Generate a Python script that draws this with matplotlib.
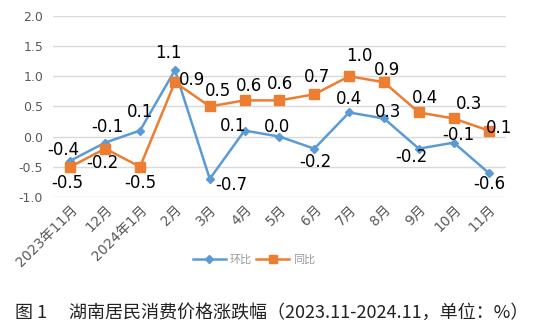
import numpy as np
from matplotlib import pyplot as plt

plt.rcParams['font.family'] = ['DejaVu Sans', 'Noto Sans CJK SC']

months = ['2023年11月', '12月', '2024年1月', '2月', '3月', '4月', '5月',
          '6月', '7月', '8月', '9月', '10月', '11月']
huanbi = [-0.4, -0.1, 0.1, 1.1, -0.7, 0.1, 0.0, -0.2, 0.4, 0.3, -0.2, -0.1, -0.6]
tongbi = [-0.5, -0.2, -0.5, 0.9, 0.5, 0.6, 0.6, 0.7, 1.0, 0.9, 0.4, 0.3, 0.1]

# 数据标签偏移 (像素)
hb_off = [(-7, 11), (2, 16), (0, 19), (-7, 17), (22, -6), (-12, 5), (-2, 10),
          (1, -13), (0, 13), (4, 6), (-7, -8), (5, 8), (1, -11)]
tb_off = [(-3, -16), (-3, -14), (0, -16), (17, 2), (8, 15), (4, 14), (1, 16),
          (3, 17), (10, 20), (3, 12), (6, 14), (15, 14), (11, 3)]

blue = '#5B9BD5'
orange = '#ED7D31'

fig = plt.figure(figsize=(5.4, 3.31), dpi=100)
ax = fig.add_axes([0.098, 0.405, 0.839, 0.547])
x = np.arange(len(months))

ax.plot(x, huanbi, color=blue, lw=1.8, marker='D', ms=4.5, label='环比', zorder=3)
ax.plot(x, tongbi, color=orange, lw=1.8, marker='s', ms=6.5, label='同比', zorder=3)

px = 72 / 100
for i in x:
    dx, dy = hb_off[i]
    ax.annotate(f'{huanbi[i]:.1f}', (i, huanbi[i]), xytext=(dx * px, dy * px),
                textcoords='offset points', ha='center', va='center', fontsize=12,
                color='black', zorder=5)
    dx, dy = tb_off[i]
    ax.annotate(f'{tongbi[i]:.1f}', (i, tongbi[i]), xytext=(dx * px, dy * px),
                textcoords='offset points', ha='center', va='center', fontsize=12,
                color='black', zorder=5)

ax.set_xlim(-0.5, len(months) - 0.5)
ax.set_ylim(-1.0, 2.0)
ax.set_yticks(np.arange(-1.0, 2.01, 0.5))
ax.set_yticklabels([f'{v:.1f}' for v in np.arange(-1.0, 2.01, 0.5)])
ax.set_xticks(x)
ax.set_xticklabels(months, rotation=45, ha='right', rotation_mode='anchor')
ax.tick_params(axis='both', length=0, labelcolor='#595959')
ax.tick_params(axis='y', pad=7, labelsize=9)
ax.tick_params(axis='x', pad=4, labelsize=10)
ax.grid(axis='y', color='#D9D9D9', lw=1)
ax.set_axisbelow(True)
for s in ax.spines.values():
    s.set_visible(False)

leg = fig.legend(loc='center', bbox_to_anchor=(0.47, 0.215), ncol=2, frameon=False,
                 fontsize=8, handlelength=3, columnspacing=0.4, handletextpad=0.3,
                 markerscale=0.8)
for t in leg.get_texts():
    t.set_color('#9A9A9A')

fig.text(0.028, 0.055, '图 1　 湖南居民消费价格涨跌幅（2023.11-2024.11，单位：%）',
         fontsize=13, color='#222222', family=['Noto Sans CJK SC'], va='center')

plt.savefig('out.png', dpi=100)
